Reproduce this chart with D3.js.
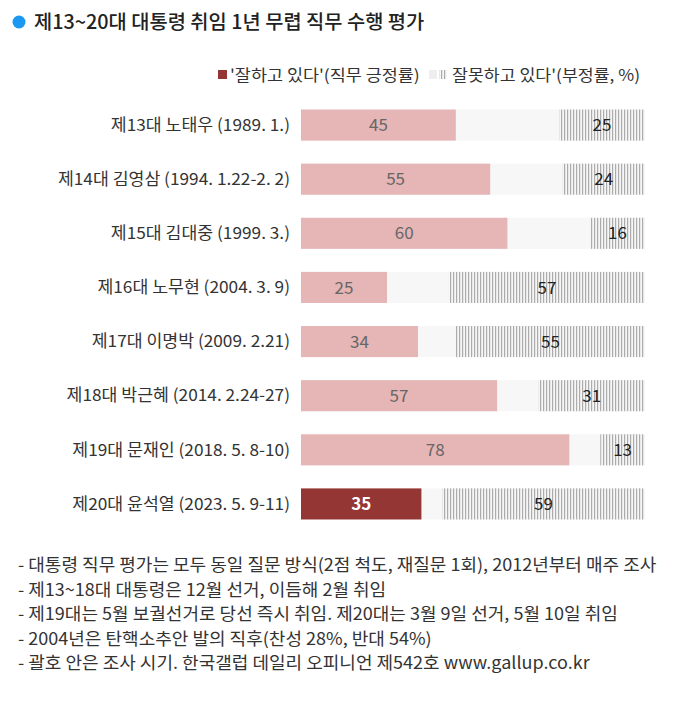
<!DOCTYPE html>
<html><head><meta charset="utf-8">
<script src="https://cdn.jsdelivr.net/npm/d3@7"></script>
<style>body{margin:0;background:#fff;}svg{display:block;font-family:"Noto Sans CJK KR","Noto Sans",sans-serif;}</style>
</head><body><svg id="c" width="682" height="703"></svg>
<script>
const categories = ["제13대 노태우 (1989. 1.)","제14대 김영삼 (1994. 1.22-2. 2)","제15대 김대중 (1999. 3.)","제16대 노무현 (2004. 3. 9)","제17대 이명박 (2009. 2.21)","제18대 박근혜 (2014. 2.24-27)","제19대 문재인 (2018. 5. 8-10)","제20대 윤석열 (2023. 5. 9-11)"];
const positive = [45,55,60,25,34,57,78,35];
const negative = [25,24,16,57,55,31,13,59];
const title = "제13~20대 대통령 취임 1년 무렵 직무 수행 평가";
const legendLabels = ["'잘하고 있다'(직무 긍정률)","잘못하고 있다'(부정률, %)"];
const notes = ["- 대통령 직무 평가는 모두 동일 질문 방식(2점 척도, 재질문 1회), 2012년부터 매주 조사","- 제13~18대 대통령은 12월 선거, 이듬해 2월 취임","- 제19대는 5월 보궐선거로 당선 즉시 취임. 제20대는 3월 9일 선거, 5월 10일 취임","- 2004년은 탄핵소추안 발의 직후(찬성 28%, 반대 54%)","- 괄호 안은 조사 시기. 한국갤럽 데일리 오피니언 제542호 www.gallup.co.kr"];

const svg = d3.select("#c");
function stretch(sel, f){
  const n = sel.node(); const w = n.getComputedTextLength();
  sel.attr("textLength", w*f).attr("lengthAdjust","spacingAndGlyphs");
  return sel;
}
const defs = svg.append("defs");
const pat = defs.append("pattern").attr("id","hatch").attr("patternUnits","userSpaceOnUse").attr("width",3).attr("height",10);
pat.append("rect").attr("width",3).attr("height",10).attr("fill","#f6f6f6");
pat.append("rect").attr("width",1.2).attr("height",10).attr("fill","#acacac");

// title
svg.append("circle").attr("cx",19).attr("cy",22).attr("r",6.5).attr("fill","#1a98f2");
stretch(svg.append("text").attr("x",34).attr("y",29).attr("font-size",19.5).attr("font-weight",500).attr("fill","#222").text(title),1.015);

// legend
svg.append("rect").attr("x",218).attr("y",70).attr("width",9).attr("height",9).attr("fill","#943634");
stretch(svg.append("text").attr("x",230).attr("y",81).attr("font-size",16).attr("fill","#333").text(legendLabels[0]),1.09);
svg.append("rect").attr("x",429).attr("y",70).attr("width",8).attr("height",9).attr("fill","#eeeeee");
svg.append("rect").attr("x",439).attr("y",70).attr("width",8).attr("height",9).attr("fill","url(#hatch)");
stretch(svg.append("text").attr("x",452).attr("y",81).attr("font-size",16).attr("fill","#333").text(legendLabels[1]),1.08);

const x = d3.scaleLinear().domain([0,100]).range([301,645]);
const y = d3.scaleBand().domain(categories).range([98,531]).paddingInner(0.426).paddingOuter(0.213);

const g = svg.append("g");
categories.forEach((c,i)=>{
  const y0 = y(c), h = y.bandwidth(), cy = y0 + h/2;
  const last = i === categories.length-1;
  g.append("rect").attr("x",x(0)).attr("y",y0).attr("width",x(100)-x(0)).attr("height",h).attr("fill","#f7f7f7");
  g.append("rect").attr("x",x(0)).attr("y",y0).attr("width",x(positive[i])-x(0)).attr("height",h).attr("fill", last?"#943634":"#e6b5b5");
  g.append("rect").attr("x",x(100-negative[i])).attr("y",y0).attr("width",x(100)-x(100-negative[i])).attr("height",h).attr("fill","url(#hatch)");
  stretch(g.append("text").attr("x",290).attr("y",cy).attr("dy","0.35em").attr("text-anchor","end").attr("font-size",16.5).attr("fill","#333").text(c),1.045);
  g.append("text").attr("x",(x(0)+x(positive[i]))/2).attr("y",cy).attr("dy","0.36em").attr("text-anchor","middle")
    .attr("font-size",17).attr("font-weight",last?700:400).attr("fill",last?"#fff":"#666").text(positive[i]);
  g.append("text").attr("x",(x(100-negative[i])+x(100))/2).attr("y",cy).attr("dy","0.36em").attr("text-anchor","middle")
    .attr("font-size",17).attr("fill","#222").text(negative[i]);
});

notes.forEach((n,i)=>{
  stretch(svg.append("text").attr("x",18).attr("y",571+i*24.5).attr("font-size",17).attr("fill","#333").text(n),1.06);
});
</script></body></html>
